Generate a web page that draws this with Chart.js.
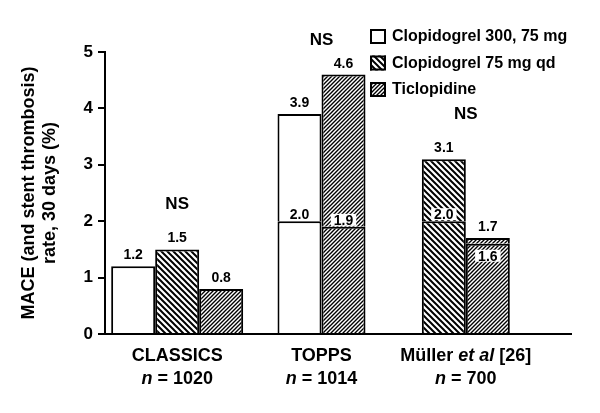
<!DOCTYPE html>
<html><head><meta charset="utf-8">
<script src="https://cdn.jsdelivr.net/npm/chart.js@4.4.1/dist/chart.umd.min.js"></script>
<style>html,body{margin:0;padding:0;background:#fff}#wrap{width:600px;height:413px;position:relative}</style>
</head><body><div id="wrap"><canvas id="c" width="600" height="413"></canvas></div>
<script>
const categories = ['CLASSICS', 'TOPPS', 'Müller et al [26]'];
const sampleSizes = ['1020', '1014', '700'];
const seriesNames = ['Clopidogrel 300, 75 mg', 'Clopidogrel 75 mg qd', 'Ticlopidine'];
const clop300Total = [1.2, 3.9, null];
const clop300Inner = [null, 2.0, null];
const clop75Total = [1.5, null, 3.1];
const clop75Inner = [null, null, 2.0];
const ticloTotal = [0.8, 4.6, 1.7];
const ticloInner = [null, 1.9, 1.6];
const groupNotes = ['NS', 'NS', 'NS'];
const yTicks = [0, 1, 2, 3, 4, 5];
const yTitle = ['MACE (and stent thrombosis)', 'rate, 30 days (%)'];

const FONT = '"Liberation Sans", Arial, Helvetica, sans-serif';
const canvas = document.getElementById('c');
const mainCtx = canvas.getContext('2d');

function hatch(size, lw, dir) {
  const c = document.createElement('canvas');
  c.width = c.height = size;
  const g = c.getContext('2d');
  g.fillStyle = '#fff'; g.fillRect(0, 0, size, size);
  g.strokeStyle = '#000'; g.lineWidth = lw;
  g.beginPath();
  if (dir === 'back') {
    g.moveTo(-1, -1); g.lineTo(size + 1, size + 1);
    g.moveTo(-2, size - 2); g.lineTo(2, size + 2);
    g.moveTo(size - 2, -2); g.lineTo(size + 2, 2);
  } else {
    g.moveTo(-1, size + 1); g.lineTo(size + 1, -1);
    g.moveTo(-2, 2); g.lineTo(2, -2);
    g.moveTo(size - 2, size + 2); g.lineTo(size + 2, size - 2);
  }
  g.stroke();
  return mainCtx.createPattern(c, 'repeat');
}

const series = [
  { name: seriesNames[0], total: clop300Total, inner: clop300Inner, fill: '#ffffff', white: true },
  { name: seriesNames[1], total: clop75Total, inner: clop75Inner, fill: hatch(6, 2, 'back') },
  { name: seriesNames[2], total: ticloTotal, inner: ticloInner, fill: hatch(4, 1.4, 'fwd') }
];

const datasets = [];
series.forEach((s, k) => {
  const lower = s.total.map((t, i) => t == null ? null : (s.inner[i] != null ? s.inner[i] : t));
  const upper = s.total.map((t, i) => (t != null && s.inner[i] != null) ? +(t - s.inner[i]).toFixed(2) : null);
  const common = { stack: 's' + k, backgroundColor: s.fill, borderColor: '#000', borderWidth: 2,
                   skipNull: true, barThickness: 44, inflateAmount: 0 };
  datasets.push(Object.assign({ label: s.name, data: lower }, common));
  datasets.push(Object.assign({ label: s.name + ' ', data: upper }, common));
});

function drawRuns(ctx, runs, cx, y, size) {
  let total = 0;
  runs.forEach(r => { ctx.font = (r.italic ? 'italic ' : '') + 'bold ' + size + 'px ' + FONT; r.w = ctx.measureText(r.text).width; total += r.w; });
  let x = cx - total / 2;
  ctx.textAlign = 'left';
  runs.forEach(r => { ctx.font = (r.italic ? 'italic ' : '') + 'bold ' + size + 'px ' + FONT; ctx.fillText(r.text, x, y); x += r.w; });
}

const decorPlugin = {
  id: 'decor',
  afterDatasetsDraw(chart) {
    const ctx = chart.ctx, xs = chart.scales.x, ys = chart.scales.y, area = chart.chartArea;
    ctx.save();
    ctx.fillStyle = '#000';
    ctx.textAlign = 'center';
    // value labels
    series.forEach((s, k) => {
      const meta = chart.getDatasetMeta(2 * k);
      s.total.forEach((t, i) => {
        if (t == null) return;
        const el = meta.data[i];
        const topY = ys.getPixelForValue(t);
        ctx.font = 'bold 14px ' + FONT;
        ctx.textBaseline = 'alphabetic';
        ctx.fillStyle = '#000';
        ctx.textAlign = 'center';
        ctx.fillText(t.toFixed(1), el.x, topY - 7);
        if (s.inner[i] != null) {
          const by = ys.getPixelForValue(s.inner[i]);
          const txt = s.inner[i].toFixed(1);
          const w = ctx.measureText(txt).width;
          const h = 12;
          const boxTop = (by - topY > 18) ? by - h - 1 : by + 6;
          if (!s.white) {
            ctx.fillStyle = '#fff';
            ctx.fillRect(el.x - w / 2 - 3, boxTop, w + 6, h);
          }
          ctx.fillStyle = '#000';
          ctx.fillText(txt, el.x, boxTop + h - 1);
        }
      });
    });
    // NS notes
    ctx.font = 'bold 17px ' + FONT;
    ctx.textBaseline = 'middle';
    categories.forEach((c, i) => {
      const tops = series.map(s => s.total[i]).filter(v => v != null);
      const maxV = Math.max.apply(null, tops);
      const y = Math.max(ys.getPixelForValue(maxV) - 45, area.top - 12);
      ctx.textAlign = 'center';
      ctx.fillText(groupNotes[i], xs.getPixelForValue(i), y);
    });
    // category labels
    ctx.textBaseline = 'middle';
    categories.forEach((c, i) => {
      const cx = xs.getPixelForValue(i);
      const runs = [];
      const parts = c.split(/(et al)/);
      parts.forEach(p => { if (p) runs.push({ text: p, italic: p === 'et al' }); });
      drawRuns(ctx, runs, cx, area.bottom + 22, 18);
      drawRuns(ctx, [{ text: 'n', italic: true }, { text: ' = ' + sampleSizes[i], italic: false }], cx, area.bottom + 45, 18);
    });
    // baseline extension
    ctx.strokeStyle = '#000'; ctx.lineWidth = 2;
    ctx.beginPath();
    ctx.moveTo(area.right - 1, area.bottom);
    ctx.lineTo(area.right + 34, area.bottom);
    ctx.stroke();
    // legend
    const lx = area.right - 168, ly = 29, rowH = 26.5;
    series.forEach((s, k) => {
      const y = ly + k * rowH;
      ctx.fillStyle = s.fill;
      ctx.fillRect(lx, y, 16, 15);
      ctx.strokeStyle = '#000'; ctx.lineWidth = 2;
      ctx.strokeRect(lx + 1, y + 1, 14, 13);
      ctx.fillStyle = '#000';
      ctx.font = 'bold 16px ' + FONT;
      ctx.textAlign = 'left';
      ctx.textBaseline = 'middle';
      ctx.fillText(s.name, lx + 22, y + 8);
    });
    ctx.restore();
  }
};

new Chart(canvas, {
  type: 'bar',
  data: { labels: categories, datasets: datasets },
  plugins: [decorPlugin],
  options: {
    responsive: false,
    animation: false,
    layout: { padding: { top: 52, right: 62, left: 0, bottom: 0 } },
    plugins: { legend: { display: false }, tooltip: { enabled: false } },
    scales: {
      x: {
        stacked: true, offset: true,
        afterFit: s => { s.height = 79; },
        ticks: { display: false },
        grid: { display: false, drawTicks: false },
        border: { display: true, color: '#000', width: 2 }
      },
      y: {
        stacked: true, min: 0, max: 5,
        afterFit: s => { s.width = 105; },
        afterBuildTicks: s => { s.ticks = yTicks.map(v => ({ value: v })); },
        ticks: { color: '#000', padding: 5, font: { family: FONT, size: 17, weight: 'bold' } },
        grid: { display: true, drawOnChartArea: false, drawTicks: true, tickLength: 7, color: '#000', lineWidth: 2 },
        border: { display: true, color: '#000', width: 2 },
        title: { display: true, text: yTitle, color: '#000', padding: { top: 18, bottom: 0 },
                 font: { family: FONT, size: 18, weight: 'bold', lineHeight: 1.2 } }
      }
    }
  }
});
</script></body></html>
